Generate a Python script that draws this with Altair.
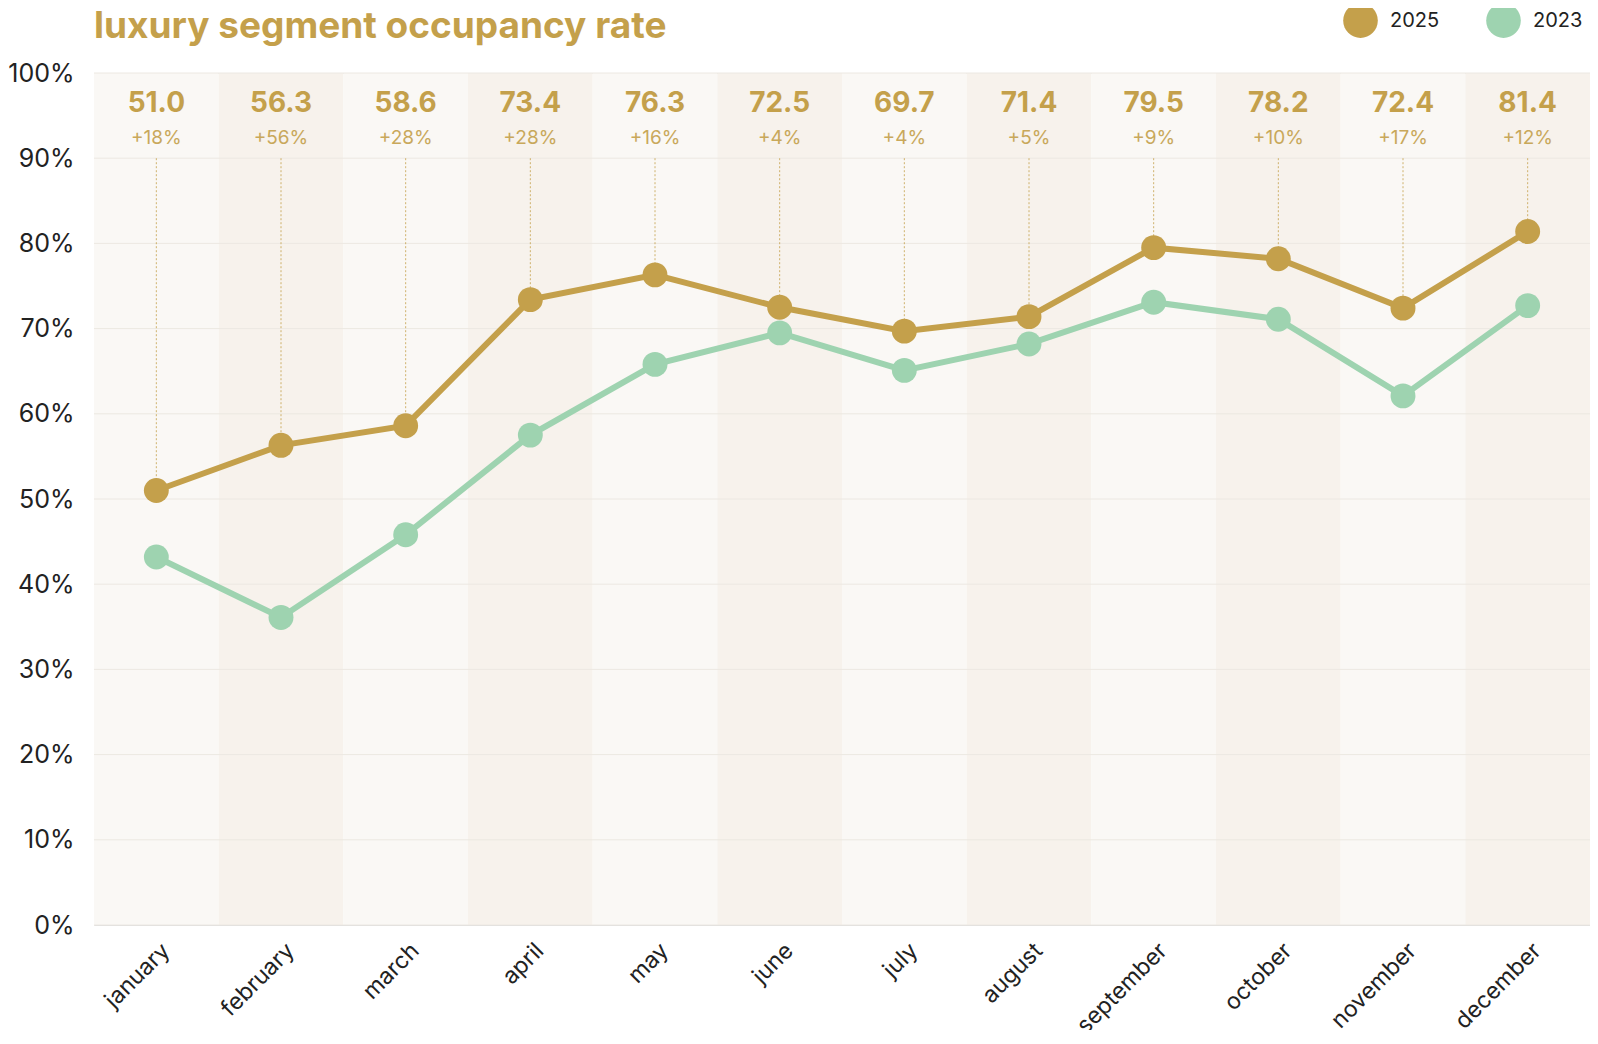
import altair as alt
import pandas as pd

months = ["january", "february", "march", "april", "may", "june",
          "july", "august", "september", "october", "november", "december"]
occ_2025 = [51.0, 56.3, 58.6, 73.4, 76.3, 72.5, 69.7, 71.4, 79.5, 78.2, 72.4, 81.4]
occ_2023 = [43.2, 36.1, 45.8, 57.5, 65.8, 69.5, 65.1, 68.2, 73.1, 71.1, 62.1, 72.7]
growth = ["+18%", "+56%", "+28%", "+28%", "+16%", "+4%",
          "+4%", "+5%", "+9%", "+10%", "+17%", "+12%"]
value_labels = ["51.0", "56.3", "58.6", "73.4", "76.3", "72.5",
                "69.7", "71.4", "79.5", "78.2", "72.4", "81.4"]
series_names = ["2025", "2023"]
y_ticks = [0, 10, 20, 30, 40, 50, 60, 70, 80, 90, 100]
title_text = "luxury segment occupancy rate"

GOLD = "#C4A04B"
GREEN = "#9ED3B0"
FONT = "Inter"

wide = pd.DataFrame({
    "month": months,
    "v2025": occ_2025,
    "v2023": occ_2023,
    "growth": growth,
    "label": value_labels,
    "parity": [str(i % 2) for i in range(len(months))],
})
long = pd.concat([
    pd.DataFrame({"month": months, "series": "2025", "value": occ_2025}),
    pd.DataFrame({"month": months, "series": "2023", "value": occ_2023}),
])
ticks = pd.DataFrame({"tick": y_ticks})

xscale = alt.Scale(type="band", domain=months, paddingInner=0, paddingOuter=0)
yscale = alt.Scale(domain=[0, 100], nice=False, zero=True)

x_axis = alt.X("month:N", scale=xscale, sort=months, title=None,
               axis=alt.Axis(labelAngle=-45, labelFontSize=23, labelColor="#222222",
                             labelFont=FONT, labelPadding=14, labelOffset=2,
                             domain=False, ticks=False,
                             grid=False, labelAlign="right", labelBaseline="top"))
y_enc = alt.Y("value:Q", scale=yscale, title=None,
              axis=alt.Axis(values=y_ticks, labelExpr="datum.value + '%'",
                            labelFontSize=25, labelColor="#222222", labelFont=FONT,
                            labelPadding=20, domain=False, ticks=False, grid=False))

base_w = alt.Chart(wide)

bands = base_w.mark_rect().encode(
    x=alt.X("month:N", scale=xscale, sort=months),
    y=alt.datum(0),
    y2=alt.datum(100),
    fill=alt.Fill("parity:N", scale=alt.Scale(domain=["0", "1"],
                                               range=["#FAF8F5", "#F7F2EC"]),
                  legend=None),
)

grid = alt.Chart(ticks).mark_rule(color="#ECE8E2", strokeWidth=1).encode(
    y=alt.Y("tick:Q", scale=yscale)
)

drops = base_w.transform_calculate(top="90").mark_rule(
    color=GOLD, strokeWidth=1, strokeDash=[2, 2], opacity=0.8
).encode(
    x=alt.X("month:N", scale=xscale, sort=months),
    y=alt.Y("top:Q", scale=yscale),
    y2="v2025:Q",
)

lines = alt.Chart(long).mark_line(strokeWidth=6).encode(
    x=x_axis,
    y=y_enc,
    stroke=alt.Stroke("series:N", scale=alt.Scale(domain=series_names, range=[GOLD, GREEN]),
                      legend=None),
    detail="series:N",
)

points = alt.Chart(long).mark_point(filled=True, opacity=1, size=620).encode(
    x=alt.X("month:N", scale=xscale, sort=months),
    y=alt.Y("value:Q", scale=yscale),
    color=alt.Color("series:N", scale=alt.Scale(domain=series_names, range=[GOLD, GREEN]),
                    sort=series_names, title=None,
                    legend=alt.Legend(orient="none", direction="horizontal",
                                      legendX=1249, legendY=-70,
                                      symbolType="circle", symbolSize=1200,
                                      symbolOpacity=1, symbolStrokeWidth=0,
                                      labelFontSize=20, labelColor="#222222",
                                      labelFont=FONT, labelOffset=12,
                                      columnPadding=46)),
)

val_text = base_w.transform_calculate(ty="96.4").mark_text(
    font=FONT, fontSize=28, fontWeight=700, color=GOLD, baseline="middle"
).encode(
    x=alt.X("month:N", scale=xscale, sort=months),
    y=alt.Y("ty:Q", scale=yscale),
    text="label:N",
)

pct_text = base_w.transform_calculate(ty="92.4").mark_text(
    font=FONT, fontSize=19, fontWeight=400, color=GOLD, baseline="middle", opacity=0.9
).encode(
    x=alt.X("month:N", scale=xscale, sort=months),
    y=alt.Y("ty:Q", scale=yscale),
    text="growth:N",
)

title = alt.Chart(pd.DataFrame({"t": [title_text]})).mark_text(
    font=FONT, fontSize=37, fontWeight=700, color=GOLD, align="left",
    baseline="alphabetic"
).encode(
    x=alt.value(0),
    y=alt.value(-35),
    text="t:N",
)

chart = alt.layer(bands, grid, drops, lines, points, val_text, pct_text, title).properties(
    width=1496,
    height=852,
    padding={"left": 86, "top": 65, "right": 0, "bottom": 105},
    autosize=alt.AutoSizeParams(type="none"),
).resolve_scale(
    color="independent"
).configure_view(stroke=None).configure(background="white")

chart.save("out.html", embed_options={"renderer": "svg", "actions": False})
